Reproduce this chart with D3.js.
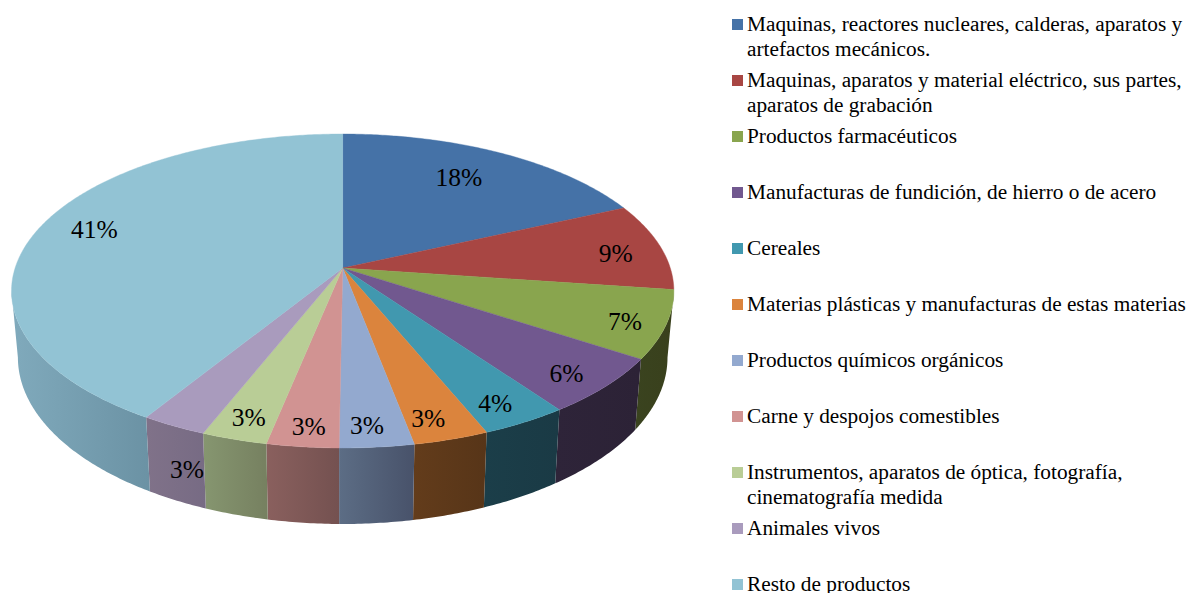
<!DOCTYPE html>
<html>
<head>
<meta charset="utf-8">
<script src="https://cdn.jsdelivr.net/npm/d3@7"></script>
<style>
  body { margin: 0; background: #fff; }
  text { font-family: "Liberation Serif", serif; fill: #000; }
</style>
</head>
<body>
<div id="chart"></div>
<script>
// Data
const categories = [
  ["Maquinas, reactores nucleares, calderas, aparatos y", "artefactos mecánicos."],
  ["Maquinas, aparatos y material eléctrico, sus partes,", "aparatos de grabación"],
  ["Productos farmacéuticos"],
  ["Manufacturas de fundición, de hierro o de acero"],
  ["Cereales"],
  ["Materias plásticas y manufacturas de estas materias"],
  ["Productos químicos orgánicos"],
  ["Carne y despojos comestibles"],
  ["Instrumentos, aparatos de óptica, fotografía,", "cinematografía medida"],
  ["Animales vivos"],
  ["Resto de productos"]
];
const values = [18.2, 9.0, 7.0, 5.9, 3.7, 3.2, 3.15, 3.05, 2.8, 2.8, 41.2];

// Colours
const topColors = ["#4572a7", "#a84643", "#89a54e", "#71588f", "#4198af", "#db843d",
                   "#93a9cf", "#d19392", "#b9cd96", "#a99bbd", "#92c3d4"];
const wallLeft  = ["#2b4668", "#682b2a", "#3a431f", "#2e2439", "#1b3e49", "#633c1b",
                   "#5c6d85", "#8a605e", "#869670", "#807289", "#80aabc"];
const wallRight = ["#2b4668", "#682b2a", "#39401c", "#2c2236", "#1a3a45", "#573518",
                   "#48526a", "#745150", "#768060", "#776b84", "#6b92a4"];

// Label placement in pie coordinates (fraction of radius, angle nudge in degrees)
const labelRadius = [0.75, 0.85, 0.885, 0.88, 0.885, 0.885, 0.895, 0.9, 0.89, 1.17, 0.83];
const labelNudge  = [-1.6, 1.9, 1.6, 1.4, 1.2, 1.6, 1.0, -0.3, -0.2, -6.7, 2.6];

const width = 1188;
const height = 593;

// Perspective of the tilted disc: k shortens the back and stretches the front
const k = 0.1465;
const cx = 342.7;
const topPlane = {rx: 327.6, ry: 153.6, y: 268};
const bottomPlane = {rx: 321.3, ry: 163, y: 333};

function project(angle, r, plane) {
  const u = r * Math.sin(angle);
  const v = r * Math.cos(angle);
  const d = 1 + k * v;
  return [cx + plane.rx * u / d, plane.y - plane.ry * v / d];
}

function arcPoints(a0, a1, r, plane) {
  const n = Math.max(2, Math.ceil(Math.abs(a1 - a0) / 0.01));
  return d3.range(n + 1).map(i => project(a0 + (a1 - a0) * i / n, r, plane));
}

const svg = d3.select("#chart").append("svg")
  .attr("width", width)
  .attr("height", height)
  .style("display", "block");

const defs = svg.append("defs");
const line = d3.line();
const pie = d3.pie().sort(null).value(d => d);
const slices = pie(values);

// the wall only shows between the two tangent points of the rim
const wallFrom = Math.PI / 2 + Math.asin(k);
const wallTo = 3 * Math.PI / 2 - Math.asin(k);

// walls first
slices.forEach((s, i) => {
  const a0 = Math.max(s.startAngle, wallFrom);
  const a1 = Math.min(s.endAngle, wallTo);
  if (a1 <= a0) return;
  const upper = arcPoints(a0, a1, 1, topPlane);
  const lower = arcPoints(a1, a0, 1, bottomPlane);
  const pts = upper.concat(lower);
  const xs = d3.extent(pts, p => p[0]);
  const grad = defs.append("linearGradient")
    .attr("id", "wall" + i)
    .attr("gradientUnits", "userSpaceOnUse")
    .attr("x1", xs[0]).attr("x2", xs[1])
    .attr("y1", 0).attr("y2", 0);
  grad.append("stop").attr("offset", 0).attr("stop-color", wallLeft[i]);
  grad.append("stop").attr("offset", 1).attr("stop-color", wallRight[i]);
  svg.append("path")
    .attr("d", line(pts) + "Z")
    .attr("fill", `url(#wall${i})`);
});

// top face
svg.append("g").selectAll("path")
  .data(slices)
  .join("path")
  .attr("d", d => line([project(0, 0, topPlane)].concat(arcPoints(d.startAngle, d.endAngle, 1, topPlane))) + "Z")
  .attr("fill", (d, i) => topColors[i])
  .attr("stroke", (d, i) => topColors[i])
  .attr("stroke-width", 0.4);

// percent labels
svg.append("g").selectAll("text")
  .data(slices)
  .join("text")
  .attr("transform", (d, i) => {
    const mid = (d.startAngle + d.endAngle) / 2 + labelNudge[i] * Math.PI / 180;
    const p = project(mid, labelRadius[i], topPlane);
    return `translate(${p[0]},${p[1]})`;
  })
  .attr("text-anchor", "middle")
  .attr("dy", "0.33em")
  .attr("font-size", 25.5)
  .text(d => Math.round(d.value) + "%");

// legend
const legendY = d3.scalePoint()
  .domain(d3.range(categories.length))
  .range([31, 591]);

const legend = svg.append("g").selectAll("g")
  .data(categories)
  .join("g")
  .attr("transform", (d, i) => `translate(732,${legendY(i)})`);

legend.append("rect")
  .attr("y", -12)
  .attr("width", 11)
  .attr("height", 11)
  .attr("fill", (d, i) => topColors[i]);

legend.selectAll("text")
  .data(d => d)
  .join("text")
  .attr("x", 15)
  .attr("y", (d, i) => i * 25)
  .attr("font-size", 21.3)
  .text(d => d);
</script>
</body>
</html>
